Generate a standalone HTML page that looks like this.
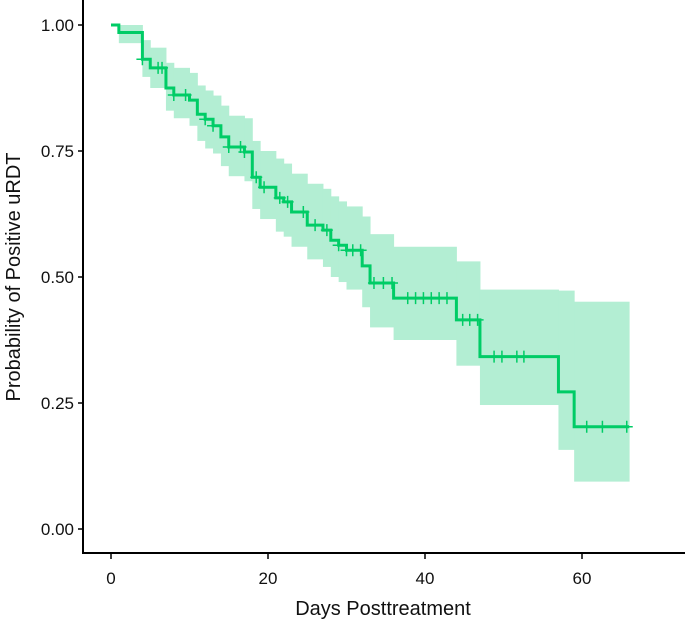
<!DOCTYPE html>
<html><head><meta charset="utf-8"><style>
body{margin:0;background:#fff;}
svg text{font-family:"Liberation Sans",sans-serif;fill:#111;}
</style></head><body>
<svg id="chart" width="685" height="622" xmlns="http://www.w3.org/2000/svg">
<g id="band"></g>
<g id="curve"></g>
<g id="axes"></g>
</svg>
<script>
const stepTimes = [0,1,4,5,7,8,10,11,12,13,14,15,17,18,19,21,22,23,25,27,28,29,30,32,33,36,44,47,57,59];
const survival  = [1,0.985,0.932,0.915,0.875,0.861,0.851,0.823,0.813,0.800,0.778,0.758,0.748,0.698,0.678,0.657,0.649,0.629,0.603,0.593,0.573,0.563,0.553,0.522,0.488,0.458,0.415,0.342,0.272,0.203];
const upperCI   = [1,1,0.970,0.955,0.925,0.915,0.905,0.880,0.870,0.860,0.840,0.820,0.815,0.770,0.750,0.735,0.725,0.705,0.685,0.675,0.660,0.650,0.640,0.620,0.585,0.560,0.531,0.475,0.473,0.451];
const lowerCI   = [1,0.964,0.897,0.875,0.830,0.815,0.800,0.770,0.755,0.745,0.720,0.700,0.690,0.635,0.615,0.590,0.580,0.560,0.535,0.520,0.500,0.490,0.475,0.440,0.400,0.375,0.324,0.246,0.157,0.094];
const endTime = 66;
const censorTimes = [4,6,6.5,8,9.5,12,13,15,16.5,17,18.5,19.5,21.5,22.5,24.5,26,27.5,29,30,30.8,31.8,33.5,34.7,35.8,37.8,38.8,39.8,40.8,41.8,42.8,44.8,45.7,46.7,48.8,49.8,51.7,52.6,60.6,62.6,65.7];
const xTicks = [0,20,40,60];
const yTicks = [0,0.25,0.5,0.75,1];
const yTickLabels = ["0.00","0.25","0.50","0.75","1.00"];

const NS="http://www.w3.org/2000/svg";
const X = d => 111 + 7.85*d;
const Y = s => 529 - 504*s;
function mk(tag, parent, attrs){const e=document.createElementNS(NS,tag);for(const k in attrs)e.setAttribute(k,attrs[k]);parent.appendChild(e);return e;}
function survAt(t){let s=survival[0];for(let i=0;i<stepTimes.length;i++){if(stepTimes[i]<=t)s=survival[i];}return s;}

const band=document.getElementById('band');
for(let i=0;i<stepTimes.length;i++){
  const t1=i+1<stepTimes.length?stepTimes[i+1]:endTime;
  const r=mk('rect',band,{x:X(stepTimes[i]),y:Y(upperCI[i]),width:X(t1)-X(stepTimes[i])+0.5,height:Y(lowerCI[i])-Y(upperCI[i]),fill:'#b3eed3'});
  
  
}
const curve=document.getElementById('curve');
let d='M'+X(stepTimes[0])+','+Y(survival[0]);
for(let i=1;i<stepTimes.length;i++){d+=' H'+X(stepTimes[i])+' V'+Y(survival[i]);}
d+=' H'+X(endTime);
const p=mk('path',curve,{d:d,fill:'none',stroke:'#00cc66','stroke-width':3});


censorTimes.forEach(t=>{
  const cx=X(t),cy=Y(survAt(t));
  const c=mk('path',curve,{d:`M${cx-6},${cy} H${cx+6} M${cx},${cy-6} V${cy+6}`,stroke:'#00cc66','stroke-width':1.5});
  
  
});
const ax=document.getElementById('axes');
mk('line',ax,{x1:83,y1:0,x2:83,y2:554,stroke:'#000','stroke-width':2});
mk('line',ax,{x1:82,y1:553,x2:685,y2:553,stroke:'#000','stroke-width':2});
xTicks.forEach(v=>{
  mk('line',ax,{x1:X(v),y1:554,x2:X(v),y2:559,stroke:'#000','stroke-width':1.5});
  const t=mk('text',ax,{x:X(v),y:584,'text-anchor':'middle','font-size':17});
  t.textContent=v;
  
  
});
yTicks.forEach((v,i)=>{
  mk('line',ax,{x1:78,y1:Y(v),x2:83,y2:Y(v),stroke:'#000','stroke-width':1.5});
  const t=mk('text',ax,{x:74,y:Y(v)+6,'text-anchor':'end','font-size':17});
  t.textContent=yTickLabels[i];
  
  
});
const xt=mk('text',ax,{x:383,y:615,'text-anchor':'middle','font-size':20});
xt.textContent='Days Posttreatment';


const yt=mk('text',ax,{x:0,y:0,'text-anchor':'middle','font-size':20,transform:'translate(20,277) rotate(-90)'});
yt.textContent='Probability of Positive uRDT';


</script>
</body></html>
